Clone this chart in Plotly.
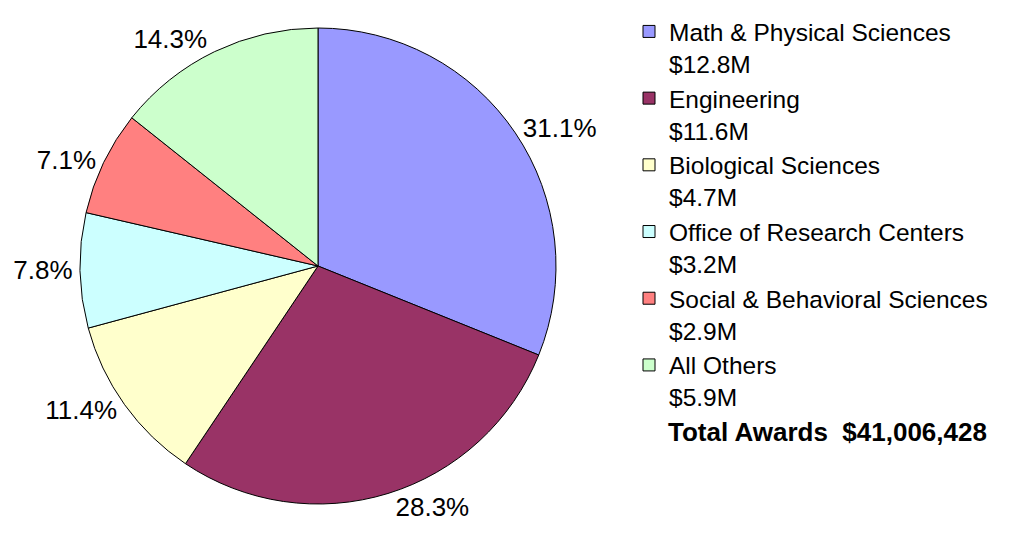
import plotly.graph_objects as go

categories = ["Math & Physical Sciences", "Engineering", "Biological Sciences",
              "Office of Research Centers", "Social & Behavioral Sciences", "All Others"]
amounts = ["$12.8M", "$11.6M", "$4.7M", "$3.2M", "$2.9M", "$5.9M"]
percents = [31.1, 28.3, 11.4, 7.8, 7.1, 14.3]
colors = ["#9999FF", "#993366", "#FFFFCC", "#CCFFFF", "#FF8080", "#CCFFCC"]
total_text = "Total Awards  $41,006,428"

font_family = "Arial, Liberation Sans, sans-serif"
W, H = 1015, 541

legend_labels = [c + "<br>" + a for c, a in zip(categories, amounts)]

# pie placement (px) tuned so the drawn centre lands near (319, 266)
cx, cy, r = 310, 258, 238

fig = go.Figure(go.Pie(
    labels=legend_labels,
    values=percents,
    sort=False,
    direction="clockwise",
    rotation=0,
    marker=dict(colors=colors, line=dict(color="black", width=1)),
    textposition="outside",
    texttemplate="%{value:.1f}%",
    textfont=dict(family=font_family, size=26, color="black"),
    domain=dict(x=[(cx - r) / W, (cx + r) / W],
                y=[(H - cy - r) / H, (H - cy + r) / H]),
    hoverinfo="label+percent",
))

fig.add_annotation(
    text="<b>" + total_text + "</b>",
    xref="paper", yref="paper", x=658 / W, y=1 - 424 / H,
    xanchor="left", yanchor="middle", showarrow=False,
    font=dict(family=font_family, size=26, color="black"),
)

fig.update_layout(
    width=W, height=H,
    margin=dict(l=0, r=0, t=0, b=0, autoexpand=False),
    paper_bgcolor="white", plot_bgcolor="white",
    showlegend=True,
    legend=dict(
        x=621 / W, y=1 - 1 / H, xanchor="left", yanchor="top",
        valign="top", bgcolor="rgba(0,0,0,0)",
        font=dict(family=font_family, size=24.5, color="black"),
    ),
    font=dict(family=font_family),
)

fig.write_html("out.html")
